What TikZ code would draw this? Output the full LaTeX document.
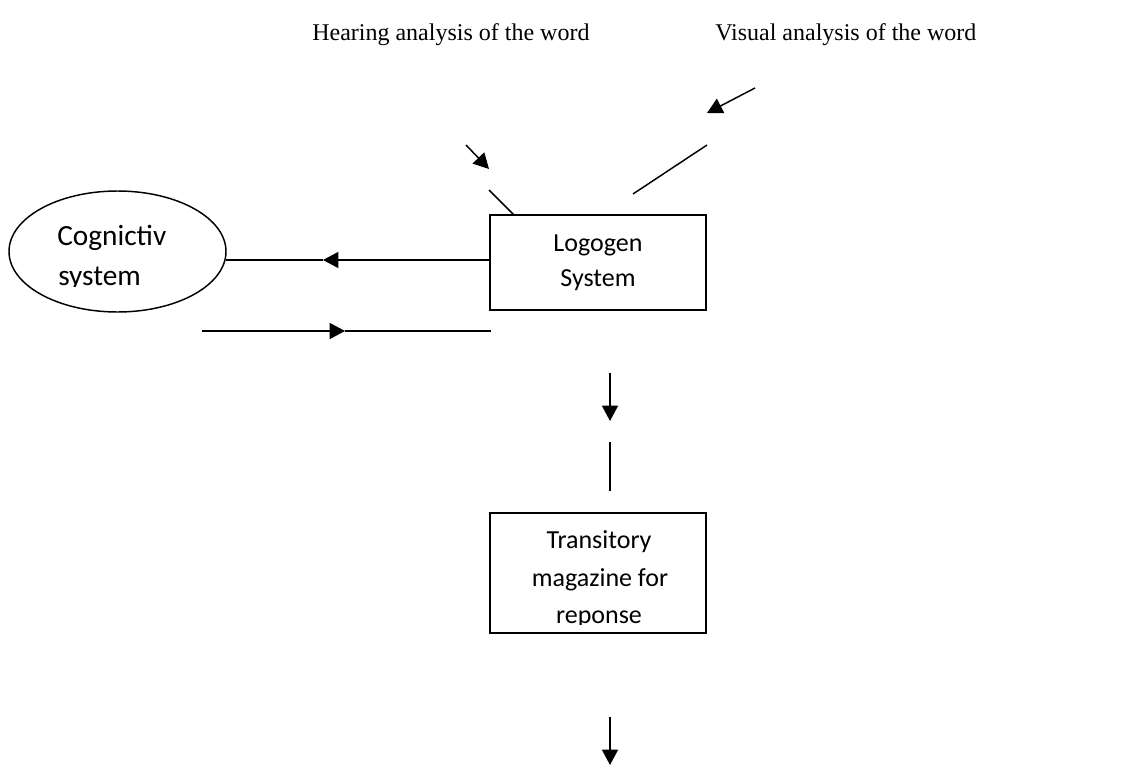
\documentclass[tikz,border=0pt]{standalone}
\usepackage{fontspec}
\setmainfont{Liberation Serif}
\newfontfamily\calib{Carlito}
\usetikzlibrary{arrows.meta}
\begin{document}
\begin{tikzpicture}[x=0.75pt,y=-0.75pt,
  conn/.style={line width=1.1pt},
  tipped/.style={-{Triangle[length=11.5pt,width=12pt]}},
  boxnode/.style={draw,line width=1.2pt,minimum width=162pt,inner sep=0pt},
  boxfont/.style={font=\calib\fontsize{19.5}{26.5}\selectfont},
  cogfont/.style={font=\calib\fontsize{22}{31}\selectfont},
  titlefont/.style={font=\fontsize{18}{22}\selectfont}
]
\useasboundingbox (0,0) rectangle (1127,767);

% titles
\node[titlefont,anchor=base west,inner sep=0pt] (hear) at (312,41) {Hearing analysis of the word};
\node[titlefont,anchor=base west,inner sep=0pt] (vis) at (715,41) {Visual analysis of the word};

% cognitive system ellipse
\draw[line width=1.1pt] (117.5,251.5) ellipse [x radius=108.5, y radius=60.5];
\node[inner sep=0pt,minimum width=162.75pt,minimum height=90.75pt] (cog) at (117.5,251.5) {};
\node[cogfont,anchor=base west,inner sep=0pt] (cog1) at (57,245) {Cognictiv};
\begin{scope}
  \clip (0,0) rectangle (480,286);
  \node[cogfont,anchor=base west,inner sep=0pt] (cog2) at (58,285) {system};
\end{scope}

% logogen box
\node[boxnode,boxfont,minimum height=71.25pt,align=center] (lg) at (598,262.5) {Logogen\\System};

% transitory box
\node[boxnode,minimum height=90pt] (tm) at (598,573) {};
\begin{scope}
  \clip (491,514) rectangle (705,624);
  \node[boxfont,anchor=base,inner sep=0pt] (tm1) at (599,548) {Transitory};
  \node[boxfont,anchor=base,inner sep=0pt] (tm2) at (600,586) {magazine for};
  \node[boxfont,anchor=base,inner sep=0pt] (tm3) at (599,623) {reponse};
\end{scope}

% coordinates
\coordinate (v1) at (755,88);
\coordinate (v2) at (707,113);
\coordinate (v3) at (707,145);
\coordinate (v4) at (633,194);
\coordinate (h1) at (466,145);
\coordinate (h2) at (489,169);
\coordinate (h3) at (489,190);
\coordinate (h4) at (514,215);
\coordinate (a1) at (323,260);
\coordinate (a2) at (226,260);
\coordinate (b1) at (202,331);
\coordinate (b2) at (345,331);
\coordinate (b3) at (491,331);
\coordinate (d1) at (610,373);
\coordinate (d2) at (610,421);
\coordinate (d3) at (610,442);
\coordinate (d4) at (610,491);
\coordinate (e1) at (610,717);
\coordinate (e2) at (610,765);

% connectors
\draw[conn,tipped] (v1) -- (v2);
\draw[conn] (v3) -- (v4);
\draw[conn,tipped] (h1) -- (h2);
\draw[conn] (h3) -- (h4);
\draw[conn,tipped] (lg.west |- a1) -- (a1);
\draw[conn] (a1) -- (a2);
\draw[conn,tipped] (b1) -- (b2);
\draw[conn] (b2) -- (b3);
\draw[conn,tipped] (d1) -- (d2);
\draw[conn] (d3) -- (d4);
\draw[conn,tipped] (e1) -- (e2);
\end{tikzpicture}
\end{document}
